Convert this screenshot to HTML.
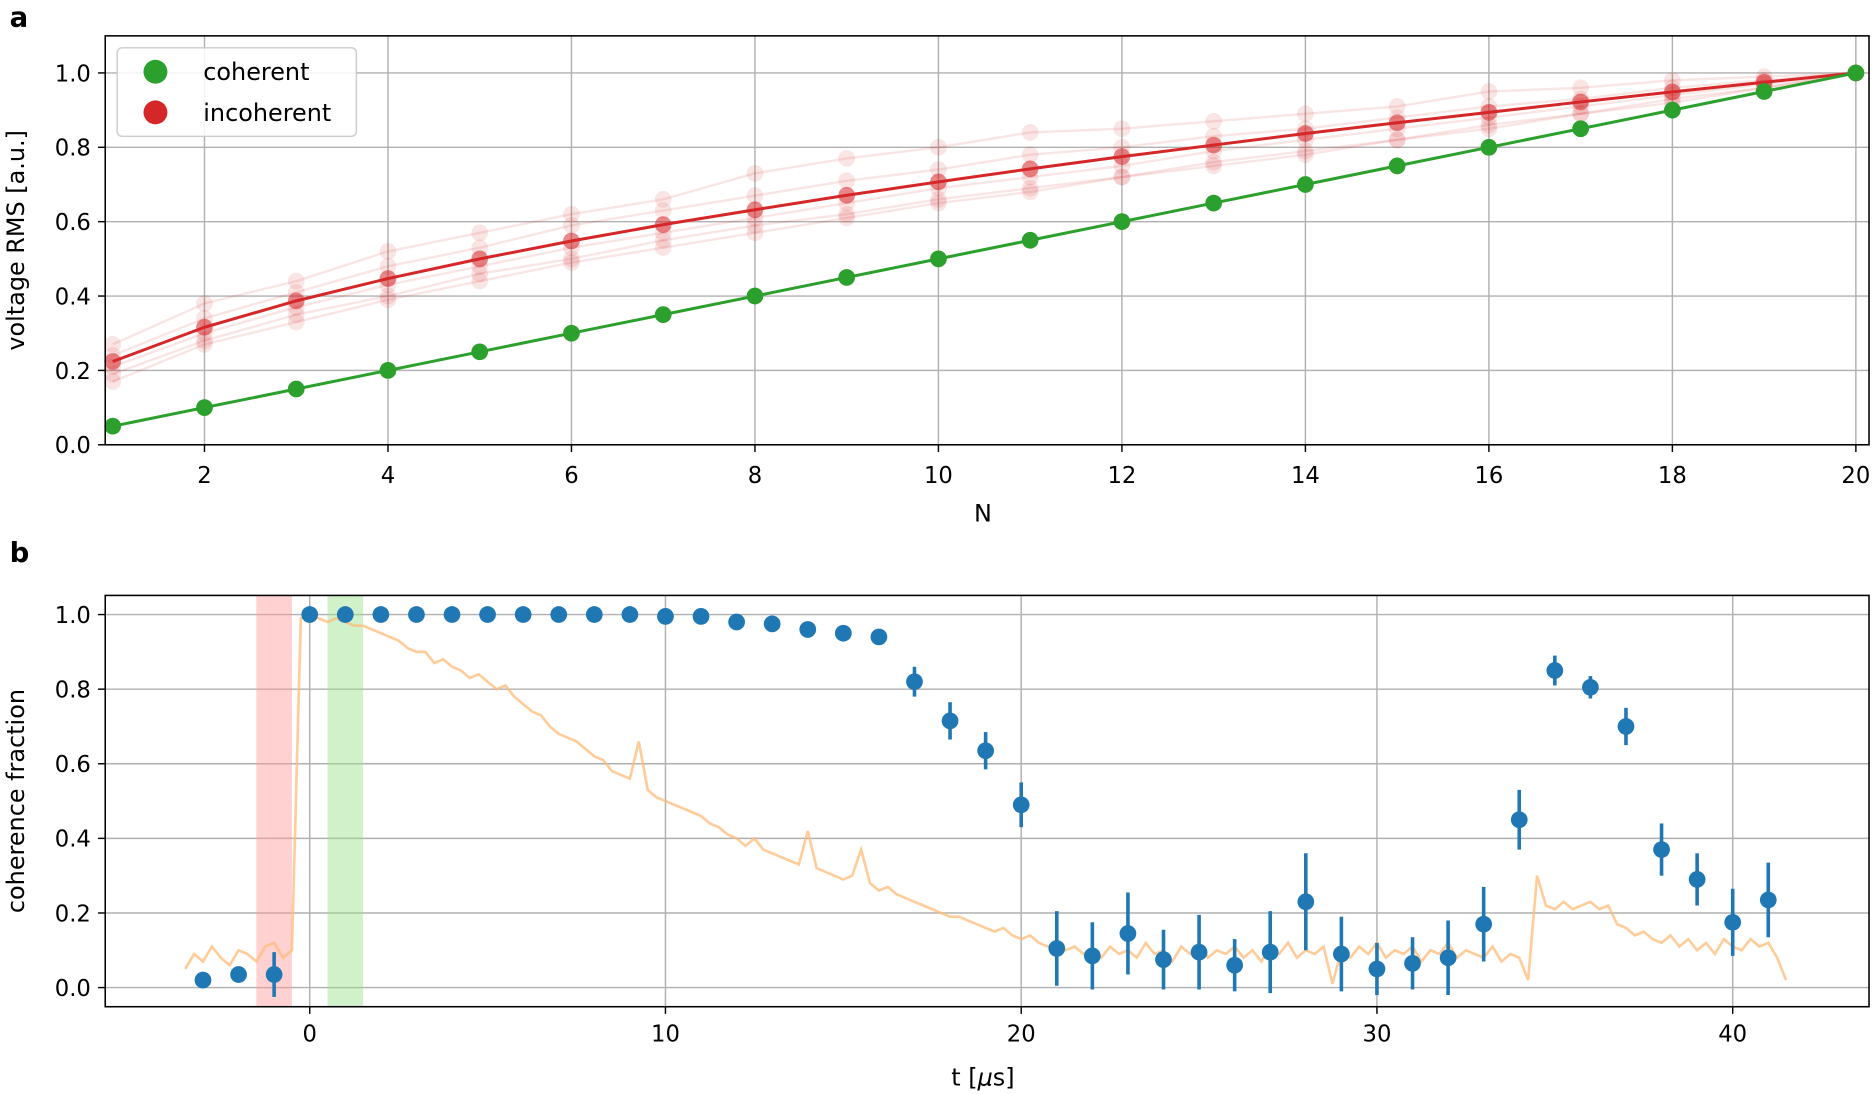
<!DOCTYPE html>
<html><head><meta charset="utf-8">
<style>
body{margin:0;background:#fff;}
svg{display:block;font-family:"DejaVu Sans","Liberation Sans",sans-serif;}
</style></head>
<body>
<svg id="fig" width="1875" height="1094" viewBox="0 0 1568 915" preserveAspectRatio="none"></svg>
<script>
// ---- Panel a data ----
const nVals = [1,2,3,4,5,6,7,8,9,10,11,12,13,14,15,16,17,18,19,20];
const coherent = [0.05,0.10,0.15,0.20,0.25,0.30,0.35,0.40,0.45,0.50,0.55,0.60,0.65,0.70,0.75,0.80,0.85,0.90,0.95,1.00];
const incoherent = [0.224,0.316,0.387,0.447,0.500,0.548,0.592,0.632,0.671,0.707,0.742,0.775,0.806,0.837,0.866,0.894,0.922,0.949,0.975,1.000];
const draw1 = [0.27,0.38,0.44,0.52,0.57,0.62,0.66,0.73,0.77,0.80,0.84,0.85,0.87,0.89,0.91,0.95,0.96,0.98,0.99,1.0];
const draw2 = [0.19,0.28,0.35,0.40,0.46,0.50,0.55,0.59,0.62,0.66,0.69,0.72,0.76,0.79,0.82,0.86,0.89,0.93,0.96,1.0];
const draw3 = [0.17,0.27,0.33,0.39,0.44,0.49,0.53,0.57,0.61,0.65,0.68,0.72,0.75,0.78,0.82,0.85,0.89,0.92,0.96,1.0];
const draw4 = [0.21,0.30,0.37,0.43,0.48,0.53,0.57,0.61,0.65,0.69,0.72,0.75,0.79,0.82,0.85,0.88,0.91,0.94,0.97,1.0];
const draw5 = [0.24,0.34,0.41,0.48,0.53,0.59,0.63,0.67,0.71,0.74,0.78,0.80,0.83,0.85,0.88,0.91,0.93,0.96,0.98,1.0];
const xTicksA = [2,4,6,8,10,12,14,16,18,20];
const yTicksA = [0.0,0.2,0.4,0.6,0.8,1.0];
// ---- Panel b data ----
const tPts = [-3,-2,-1,0,1,2,3,4,5,6,7,8,9,10,11,12,13,14,15,16,17,18,19,20,21,22,23,24,25,26,27,28,29,30,31,32,33,34,35,36,37,38,39,40,41];
const cohFrac = [0.02,0.035,0.035,1.0,1.0,1.0,1.0,1.0,1.0,1.0,1.0,1.0,1.0,0.995,0.995,0.98,0.975,0.96,0.95,0.94,0.82,0.715,0.635,0.49,0.105,0.085,0.145,0.075,0.095,0.06,0.095,0.23,0.09,0.05,0.065,0.08,0.17,0.45,0.85,0.805,0.70,0.37,0.29,0.175,0.235];
const cohErr = [0.01,0.02,0.06,0.005,0.005,0.005,0.005,0.005,0.005,0.005,0.005,0.005,0.005,0.005,0.005,0.005,0.005,0.005,0.005,0.005,0.04,0.05,0.05,0.06,0.10,0.09,0.11,0.08,0.10,0.07,0.11,0.13,0.10,0.07,0.07,0.10,0.10,0.08,0.04,0.03,0.05,0.07,0.07,0.09,0.10];
const traceStart = -3.5, traceStep = 0.25;
const trace = [.05,.09,.07,.11,.08,.06,.10,.09,.07,.11,.12,.08,.10,.99,1.0,.99,.98,.99,.98,.97,.97,.96,.95,.94,.93,.91,.90,.90,.87,.88,.86,.85,.83,.84,.82,.80,.81,.78,.76,.74,.73,.70,.68,.67,.66,.64,.62,.61,.58,.57,.56,.66,.53,.51,.50,.49,.48,.47,.46,.44,.43,.41,.40,.38,.40,.37,.36,.35,.34,.33,.42,.32,.31,.30,.29,.30,.37,.28,.26,.27,.25,.24,.23,.22,.21,.20,.19,.19,.18,.17,.16,.15,.16,.14,.13,.14,.12,.11,.12,.10,.11,.09,.10,.08,.11,.09,.10,.08,.12,.09,.10,.07,.11,.09,.12,.08,.10,.09,.11,.08,.10,.07,.11,.09,.12,.08,.10,.09,.11,.01,.10,.08,.11,.09,.12,.08,.10,.09,.11,.07,.10,.09,.12,.08,.10,.09,.08,.11,.07,.09,.08,.02,.30,.22,.21,.23,.21,.22,.23,.21,.22,.17,.16,.14,.15,.13,.12,.14,.11,.13,.10,.12,.09,.13,.11,.10,.13,.11,.12,.08,.02];
const xTicksB = [0,10,20,30,40];
const yTicksB = [0.0,0.2,0.4,0.6,0.8,1.0];

const NS='http://www.w3.org/2000/svg';
const svg=document.getElementById('fig');
function el(tag,attrs,parent,text){const e=document.createElementNS(NS,tag);for(const k in attrs)e.setAttribute(k,attrs[k]);if(text!==undefined)e.textContent=text;(parent||svg).appendChild(e);return e;}

const A={l:88,r:1563,t:30,b:372};
const xa=n=>171+(n-2)*(1552-171)/18;
const ya=v=>372-v*311;
const B={l:88,r:1563,t:498,b:842};
const xb=t=>259+t*(1449-259)/40;
const yb=v=>826-v*312;
function fmt(v){return v.toFixed(1);}

// ---- Panel a ----
const ga=el('g',{},svg);


const gridA=el('g',{stroke:'#b0b0b0','stroke-width':1.2},ga);


xTicksA.forEach(n=>{el('line',{x1:xa(n),x2:xa(n),y1:A.t,y2:A.b},gridA);});
yTicksA.forEach(v=>{el('line',{x1:A.l,x2:A.r,y1:ya(v),y2:ya(v)},gridA);});
[draw1,draw2,draw3,draw4,draw5].forEach((d,k)=>{
  const pts=nVals.map((n,i)=>xa(n)+','+ya(d[i])).join(' ');
  const pl=el('polyline',{points:pts,fill:'none',stroke:'#d62728','stroke-opacity':0.12,'stroke-width':2},ga);
  
  
  d.forEach((v,i)=>{const c=el('circle',{cx:xa(nVals[i]),cy:ya(v),r:7,fill:'#d62728','fill-opacity':0.12},ga);
    
    });
});
{const pts=nVals.map((n,i)=>xa(n)+','+ya(incoherent[i])).join(' ');
 const pl=el('polyline',{points:pts,fill:'none',stroke:'#d62728','stroke-width':2.5},ga);
 
 
 incoherent.forEach((v,i)=>{const c=el('circle',{cx:xa(nVals[i]),cy:ya(v),r:7,fill:'#d62728','fill-opacity':0.55},ga);
  
  });}
{const pts=nVals.map((n,i)=>xa(n)+','+ya(coherent[i])).join(' ');
 const pl=el('polyline',{points:pts,fill:'none',stroke:'#2ca02c','stroke-width':2.5},ga);
 
 
 coherent.forEach((v,i)=>{const c=el('circle',{cx:xa(nVals[i]),cy:ya(v),r:7,fill:'#2ca02c'},ga);
  
  });}
{const r=el('rect',{x:A.l,y:A.t,width:A.r-A.l,height:A.b-A.t,fill:'none',stroke:'#000','stroke-width':1.3},ga);
 }
xTicksA.forEach(n=>{el('line',{x1:xa(n),x2:xa(n),y1:A.b,y2:A.b+6,stroke:'#000','stroke-width':1.2},ga);
 const t=el('text',{x:xa(n),y:A.b+32,'text-anchor':'middle','font-size':19},ga,String(n));
 });
yTicksA.forEach(v=>{el('line',{x1:A.l-6,x2:A.l,y1:ya(v),y2:ya(v),stroke:'#000','stroke-width':1.2},ga);
 const t=el('text',{x:A.l-12,y:ya(v)+7,'text-anchor':'end','font-size':19},ga,fmt(v));
 });
{const t=el('text',{x:822,y:436,'text-anchor':'middle','font-size':20},ga,'N');}
{const t=el('text',{x:0,y:0,'text-anchor':'middle','font-size':20,transform:'translate(20,201) rotate(-90)'},ga,'voltage RMS [a.u.]');}
{const t=el('text',{x:8,y:22,'font-size':23,'font-weight':'bold'},ga,'a');}
{const lg=el('g',{},ga);
 el('rect',{x:98,y:40,width:200,height:74,rx:4,fill:'#fff','fill-opacity':0.85,stroke:'#ccc','stroke-width':1.2},lg);
 const c1=el('circle',{cx:130,cy:60,r:10,fill:'#2ca02c'},lg);
 const t1=el('text',{x:170,y:67,'font-size':20},lg,'coherent');
 const c2=el('circle',{cx:130,cy:94,r:10,fill:'#d62728'},lg);
 const t2=el('text',{x:170,y:101,'font-size':20},lg,'incoherent');}

// ---- Panel b ----
const gb=el('g',{},svg);


const gridB=el('g',{stroke:'#b0b0b0','stroke-width':1.2},gb);


xTicksB.forEach(t=>{el('line',{x1:xb(t),x2:xb(t),y1:B.t,y2:B.b},gridB);});
yTicksB.forEach(v=>{el('line',{x1:B.l,x2:B.r,y1:yb(v),y2:yb(v)},gridB);});
{const r=el('rect',{x:xb(-1.5),y:B.t,width:xb(-0.5)-xb(-1.5),height:B.b-B.t,fill:'#ff9896','fill-opacity':0.45},gb);
 
 const g=el('rect',{x:xb(0.5),y:B.t,width:xb(1.5)-xb(0.5),height:B.b-B.t,fill:'#98df8a','fill-opacity':0.45},gb);
 }
{const pts=trace.map((v,i)=>xb(traceStart+i*traceStep)+','+yb(v)).join(' ');
 const pl=el('polyline',{points:pts,fill:'none',stroke:'#ffbb78','stroke-opacity':0.75,'stroke-width':2.2},gb);
 }
tPts.forEach((t,i)=>{
 const e=el('line',{x1:xb(t),x2:xb(t),y1:yb(cohFrac[i]-cohErr[i]),y2:yb(cohFrac[i]+cohErr[i]),stroke:'#1f77b4','stroke-width':3},gb);
 
 const c=el('circle',{cx:xb(t),cy:yb(cohFrac[i]),r:7,fill:'#1f77b4'},gb);
 
});
{const r=el('rect',{x:B.l,y:B.t,width:B.r-B.l,height:B.b-B.t,fill:'none',stroke:'#000','stroke-width':1.3},gb);
 }
xTicksB.forEach(t=>{el('line',{x1:xb(t),x2:xb(t),y1:B.b,y2:B.b+6,stroke:'#000','stroke-width':1.2},gb);
 const s=el('text',{x:xb(t),y:B.b+29,'text-anchor':'middle','font-size':19},gb,String(t));
 });
yTicksB.forEach(v=>{el('line',{x1:B.l-6,x2:B.l,y1:yb(v),y2:yb(v),stroke:'#000','stroke-width':1.2},gb);
 const s=el('text',{x:B.l-12,y:yb(v)+7,'text-anchor':'end','font-size':19},gb,fmt(v));
 });
{const t=el('text',{x:822,y:908,'text-anchor':'middle','font-size':20},gb);
 t.innerHTML='t [<tspan font-style="italic">μ</tspan>s]';}
{const t=el('text',{x:0,y:0,'text-anchor':'middle','font-size':20,transform:'translate(20,670) rotate(-90)'},gb,'coherence fraction');}
{const t=el('text',{x:8,y:470,'font-size':23,'font-weight':'bold'},gb,'b');}
</script>
</body></html>
